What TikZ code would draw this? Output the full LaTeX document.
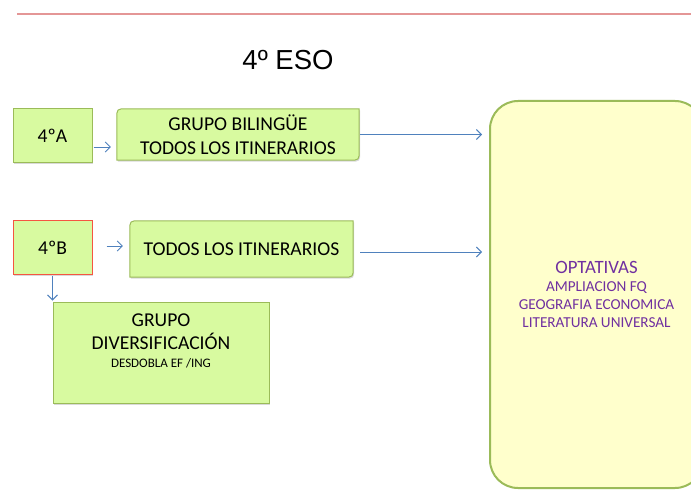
\documentclass[tikz,border=0pt]{standalone}
\usepackage{fontspec}
\setmainfont{Carlito}
\newfontfamily\titlefont{Liberation Sans}
\usetikzlibrary{
    arrows.meta,
    backgrounds,
    shadows
}
\definecolor{boxgreen}{RGB}{216,250,160}
\definecolor{edgegreen}{RGB}{155,187,89}
\definecolor{edgered}{RGB}{245,85,65}
\definecolor{optyellow}{RGB}{255,255,204}
\definecolor{optpurple}{RGB}{112,48,160}
\definecolor{linkblue}{RGB}{79,129,189}
\definecolor{rulered}{RGB}{228,150,150}
\tikzset{
    boxshadow/.style={drop shadow={shadow xshift=1pt, shadow yshift=-1.5pt, opacity=0.25, fill=black!60}},
    grupo/.style={fill=boxgreen, draw=edgegreen, line width=1pt, inner sep=0pt, boxshadow,
        font=\fontsize{19.6}{23.5}\selectfont},
    itinerario/.style={inner sep=0pt, align=center, font=\fontsize{19.6}{23.5}\selectfont},
    itinfill/.style={fill=boxgreen, draw=edgegreen, line width=1pt, boxshadow},
    conn/.style={draw=linkblue, line width=0.9pt, -{Straight Barb[length=5pt,width=10pt]}}
}

\begin{document}
\begin{tikzpicture}[x=1pt, y=-1pt]
    \clip (0, 0) rectangle (691, 500);
    \draw[rulered, line width=1.3pt] (17, 14) -- (691, 14);
    \node[font=\titlefont\fontsize{27.5}{30}\selectfont] (title) at (288, 60) {4º ESO};
    % grupos
    \node[grupo, minimum width=79pt, minimum height=54pt] (a4) at (52.5, 136) {4ºA};
    \node[grupo, draw=edgered, minimum width=79pt, minimum height=54pt] (b4) at (52.5, 247.5) {4ºB};
    \node[itinerario, minimum width=242pt, minimum height=51pt] (bil) at (238, 134.5)
        {GRUPO BILINGÜE\\TODOS LOS ITINERARIOS};
    \node[itinerario, minimum width=223pt, minimum height=56pt] (todos) at (241.5, 249)
        {TODOS LOS ITINERARIOS};
    \node[grupo, minimum width=216pt, minimum height=101pt] (div) at (161, 352.5) {};
    \node[align=center, font=\fontsize{19.6}{23.5}\selectfont] (divtxt) at (161, 341)
        {GRUPO\\DIVERSIFICACIÓN\\[-5.5pt]{\fontsize{13}{15}\selectfont DESDOBLA EF /ING}};
    \node[fill=optyellow, draw=edgegreen, line width=2pt, rounded corners=28pt,
        minimum width=213pt, minimum height=387pt, align=center, text=optpurple,
        font=\fontsize{15.2}{18}\selectfont] (opt) at (596.5, 294.5)
        {{\fontsize{18.8}{22}\selectfont OPTATIVAS}\\AMPLIACION FQ\\GEOGRAFIA ECONOMICA\\LITERATURA UNIVERSAL};
    \begin{scope}[on background layer]
        \foreach \n in {bil, todos}
            \draw[itinfill] (\n.north east) -- ([yshift=10pt]\n.south east)
                .. controls (\n.south east) .. ([xshift=-10pt]\n.south east)
                -- (\n.south west) -- ([yshift=-10pt]\n.north west)
                .. controls (\n.north west) .. ([xshift=10pt]\n.north west) -- cycle;
    \end{scope}
    % flechas
    \draw[conn, shorten <=1pt, shorten >=6pt] ([yshift=-11pt]a4.east) -- ([yshift=-11pt]a4.east -| bil.west);
    \draw[conn, shorten <=14pt, shorten >=7pt] ([yshift=1.5pt]b4.east) -- ([yshift=1.5pt]b4.east -| todos.west);
    \draw[conn, shorten <=1pt, shorten >=7pt] (bil.east) -- (bil.east -| opt.west);
    \draw[conn, shorten <=7pt, shorten >=7pt] ([yshift=-3pt]todos.east) -- ([yshift=-3pt]todos.east -| opt.west);
    \draw[conn, shorten <=1pt, shorten >=1pt] (b4.south) -- (b4.south |- div.north);
\end{tikzpicture}
\end{document}
